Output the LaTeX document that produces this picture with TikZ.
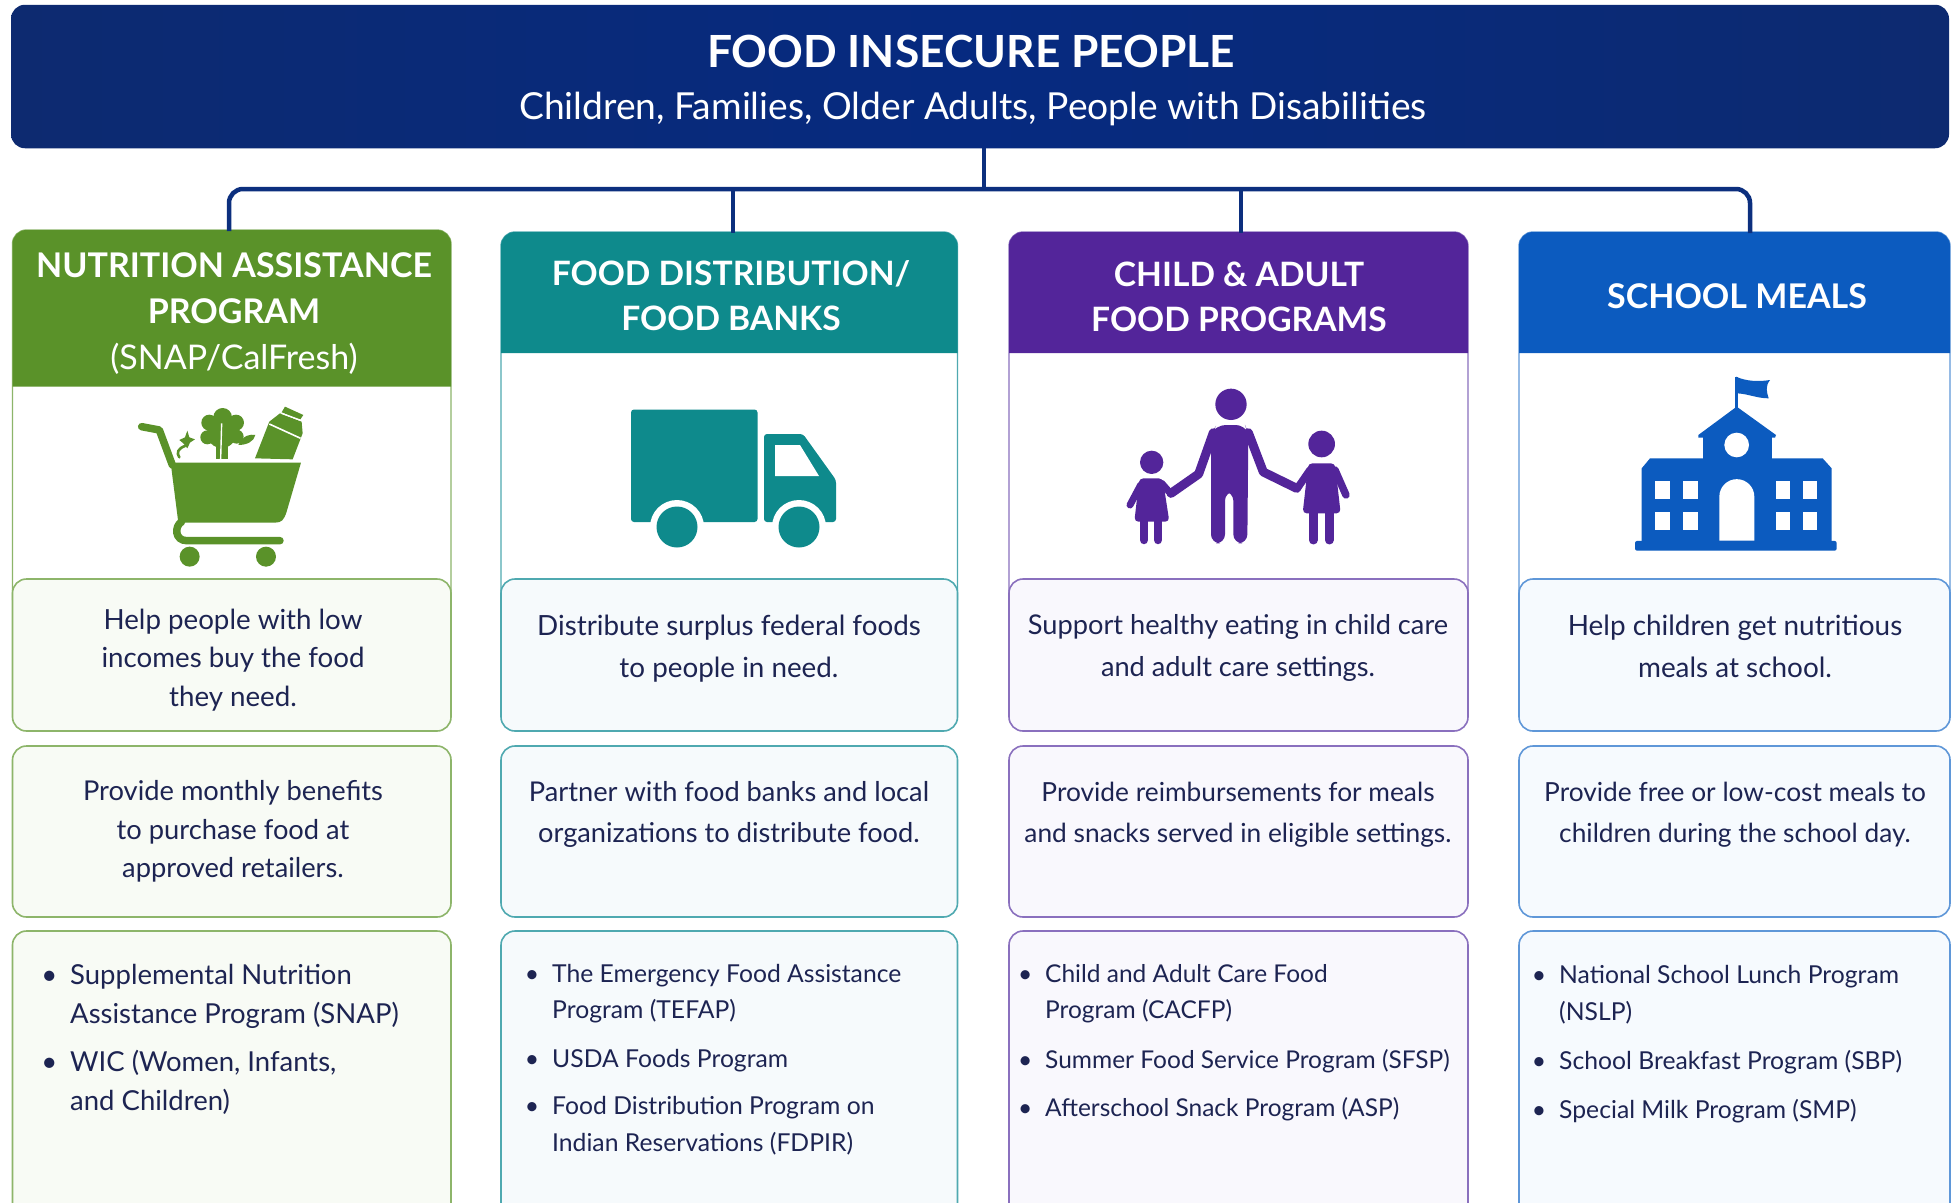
\documentclass[tikz,border=0pt]{standalone}
\usepackage{fontspec}
\setmainfont{Lato}
\definecolor{navy}{HTML}{062A80}
\definecolor{navyd}{HTML}{0D2A70}
\definecolor{conn}{HTML}{0C2F7E}
\definecolor{ink}{HTML}{1D2452}
\definecolor{grn}{HTML}{5A9229}\definecolor{grnb}{HTML}{8DB56A}\definecolor{grnf}{HTML}{F8FBF5}
\definecolor{tea}{HTML}{0E8A8C}\definecolor{teab}{HTML}{4FA9B0}\definecolor{teaf}{HTML}{F6FAFC}
\definecolor{pur}{HTML}{53259A}\definecolor{purb}{HTML}{8A70BE}\definecolor{purf}{HTML}{F9F8FD}
\definecolor{blu}{HTML}{0C5BBF}\definecolor{blub}{HTML}{5F97D8}\definecolor{bluf}{HTML}{F6FAFE}
\newcommand{\fs}[2]{\fontsize{#1}{#2}\selectfont}
\newcommand{\bul}{\llap{•\hspace{13pt}}}
\newcommand{\panelcol}[5]{%
 \draw[#5b,line width=1.4pt,fill=white] (#1,600) [rounded corners=14pt] -- (#1,#4) -- (#2,#4) [sharp corners] -- (#2,600);
 \fill[#5] (#1,#3) [rounded corners=14pt] -- (#1,#4) -- (#2,#4) [sharp corners] -- (#2,#3) -- cycle;
 \draw[#5b,line width=1.6pt,fill=#5f,rounded corners=14pt] (#1,579) rectangle (#2,731);
 \draw[#5b,line width=1.6pt,fill=#5f,rounded corners=14pt] (#1,746) rectangle (#2,917);
 \fill[#5f] (#1,1203) [rounded corners=14pt] -- (#1,931) -- (#2,931) [sharp corners] -- (#2,1203) -- cycle;
 \draw[#5b,line width=1.6pt] (#1,1203) [rounded corners=14pt] -- (#1,931) -- (#2,931) [sharp corners] -- (#2,1203);
}
\tikzset{
 hd/.style={text=white,font=\bfseries,align=center,inner sep=0pt},
 body/.style={text=ink,align=center,inner sep=0pt},
 items/.style={text=ink,align=left,inner sep=0pt,anchor=west},
 link/.style={draw=conn,line width=4.5pt},
}
\begin{document}
\begin{tikzpicture}[x=1pt,y=-1pt]
\useasboundingbox (0,0) rectangle (1951,1202);
\fill[white] (0,0) rectangle (1951,1202);
% columns
\panelcol{12.5}{451}{386.5}{230}{grn}
\panelcol{501}{957.5}{353}{232}{tea}
\panelcol{1009}{1468}{353}{232}{pur}
\panelcol{1519}{1950}{353}{232}{blu}
% banner
\node[rounded corners=14pt,left color=navyd,right color=navyd,middle color=navy,draw=none,minimum width=1938pt,minimum height=143.5pt,inner sep=0pt] (banner) at (980,76.5) {};
\node[text=white,font=\bfseries\fs{44.3}{50},inner sep=0pt] (bt) at (971,51.5) {FOOD INSECURE PEOPLE};
\node[text=white,font=\fs{37.2}{44},inner sep=0pt] (bs) at (973,108.5) {Children, Families, Older Adults, People with Disabilities};
% connectors
\coordinate (hub) at (984,189);
\coordinate (t1) at (229,231);
\coordinate (t2) at (733,233);
\coordinate (t3) at (1241,233);
\coordinate (t4) at (1750,233);
\draw[link] (banner.south -| hub) -- (hub);
\draw[link,rounded corners=14pt] (t1) -- (t1 |- hub) -- (t4 |- hub) -- (t4);
\draw[link] (t2 |- hub) -- (t2);
\draw[link] (t3 |- hub) -- (t3);
% headers
\node[hd,font=\bfseries\fs{34}{46}] (h1) at (234,313.5) {NUTRITION ASSISTANCE\\PROGRAM\\{\mdseries (SNAP/CalFresh)}};
\node[hd,font=\bfseries\fs{33.6}{45}] (h2) at (731,296) {FOOD DISTRIBUTION/\\FOOD BANKS};
\node[hd,font=\bfseries\fs{33.6}{45}] (h3) at (1239,296.5) {CHILD \& ADULT\\FOOD PROGRAMS};
\node[hd,font=\bfseries\fs{34}{45}] (h4) at (1737,296.5) {SCHOOL MEALS};
% descriptions
\node[body,font=\fs{27.7}{38.6}] (a1) at (233,660) {Help people with low\\incomes buy the food\\they need.};
\node[body,font=\fs{27.8}{42}] (a2) at (729,648.5) {Distribute surplus federal foods\\to people in need.};
\node[body,font=\fs{27.2}{42}] (a3) at (1238,648) {Support healthy eating in child care\\and adult care settings.};
\node[body,font=\fs{27.9}{42}] (a4) at (1735,646) {Help children get nutritious\\meals at school.};
\node[body,font=\fs{27.3}{38.6}] (b1) at (233,831.5) {Provide monthly benefits\\to purchase food at\\approved retailers.};
\node[body,font=\fs{27.25}{41}] (b2) at (729,814.5) {Partner with food banks and local\\organizations to distribute food.};
\node[body,font=\fs{26.3}{41}] (b3) at (1238,814.5) {Provide reimbursements for meals\\and snacks served in eligible settings.};
\node[body,font=\fs{26.3}{41}] (b4) at (1735,814.5) {Provide free or low-cost meals to\\children during the school day.};
% lists
\node[items,font=\fs{27.5}{38.6}] (c1a) at (70,996.5) {\bul Supplemental Nutrition\\Assistance Program (SNAP)};
\node[items,font=\fs{27.5}{38.6}] (c1b) at (70,1082.5) {\bul WIC (Women, Infants,\\and Children)};
\node[items,font=\fs{24.7}{36}] (c2a) at (552,994) {\bul The Emergency Food Assistance\\Program (TEFAP)};
\node[items,font=\fs{24.7}{36}] (c2b) at (552,1061) {\bul USDA Foods Program};
\node[items,font=\fs{24.7}{37}] (c2c) at (552,1126) {\bul Food Distribution Program on\\Indian Reservations (FDPIR)};
\node[items,font=\fs{24.5}{36}] (c3a) at (1045,994) {\bul Child and Adult Care Food\\Program (CACFP)};
\node[items,font=\fs{24.5}{36}] (c3b) at (1045,1061) {\bul Summer Food Service Program (SFSP)};
\node[items,font=\fs{24.5}{36}] (c3c) at (1045,1109) {\bul Afterschool Snack Program (ASP)};
\node[items,font=\fs{24.7}{37}] (c4a) at (1559,994.5) {\bul National School Lunch Program\\(NSLP)};
\node[items,font=\fs{24.7}{36}] (c4b) at (1559,1062) {\bul School Breakfast Program (SBP)};
\node[items,font=\fs{24.7}{36}] (c4c) at (1559,1111.5) {\bul Special Milk Program (SMP)};
% cart
\begin{scope}[shift={(100,380)},x=0.3333pt,y=-0.3333pt,grn]
 \fill (212,248) -- (603,248) -- (560,395) .. controls (552,420) and (545,428) .. (525,428) -- (235,428) -- cycle;
 \draw[line width=7.5pt,line cap=round,line join=round] (125,140) -- (178,150) -- (217,255);
 \draw[line width=7.5pt,line cap=round] (245,425) .. controls (222,440) and (225,482) .. (260,482) -- (540,482);
 \fill (269,530) circle (30);
 \fill (498,530) circle (30);
 \fill (465,235) -- (508,125) -- (540,100) -- (605,125) -- (608,160) -- (578,238) -- cycle;
 \draw[white,line width=1.6pt] (508,132) -- (602,175);
 \fill (555,80) -- (610,105) -- (600,120) -- (545,97) -- cycle;
 \draw[white,line width=1.4pt] (545,100) -- (605,122);
 \fill (368,112) circle (28);
 \fill (328,128) circle (24);
 \fill (408,128) circle (24);
 \fill (322,172) circle (21);
 \fill (410,170) circle (21);
 \fill (365,160) circle (44);
 \fill (348,190) rectangle (385,238);
 \draw[white,line width=1.4pt] (365,130) -- (362,238);
 \fill (262,152) -- (268,172) -- (285,178) -- (270,188) -- (262,205) -- (250,190) -- (238,180) -- (255,172) -- cycle;
 \draw[line width=2.6pt,line cap=round] (255,198) .. controls (235,205) and (228,218) .. (238,232);
 \fill (415,195) .. controls (430,165) and (450,162) .. (466,165) .. controls (462,185) and (440,195) .. (415,195) -- cycle;
\end{scope}
% truck
\begin{scope}[tea]
 \fill[rounded corners=3pt] (631,409.5) rectangle (757.5,522);
 \fill[rounded corners=3pt] (764,522) -- (764,434) -- (803,434) -- (836,480) -- (836,522) -- cycle;
 \fill[white] (775,445) -- (800,445) -- (819,476) -- (775,476) -- cycle;
 \fill[white] (677,527) circle (27);
 \fill[white] (799,527) circle (27);
 \fill (677,527) circle (20.5);
 \fill (799,527) circle (20.5);
\end{scope}
% family
\begin{scope}[shift={(1100,370)},x=0.3333pt,y=-0.3333pt,pur]
 \fill (393,103) circle (47);
 \fill[rounded corners=9pt] (333,520) -- (333,190) -- (350,165) -- (435,165) -- (445,190) -- (442,520) -- (400,520) -- (400,365) -- (375,365) -- (375,520) -- cycle;
 \draw[line width=9pt,line cap=round,line join=round] (340,188) -- (296,312) -- (213,370);
 \draw[line width=9pt,line cap=round,line join=round] (445,188) -- (490,306) -- (590,355);
 \fill (155,277) circle (35);
 \fill[rounded corners=4pt] (118,325) -- (188,325) -- (208,455) -- (103,455) -- cycle;
 \draw[line width=7pt,line cap=round] (122,345) -- (90,405);
 \draw[line width=7pt,line cap=round] (185,340) -- (213,372);
 \draw[line width=8.5pt,line cap=round] (132,450) -- (132,510);
 \draw[line width=8.5pt,line cap=round] (174,450) -- (174,510);
 \fill (665,222) circle (40);
 \fill[rounded corners=4pt] (625,280) -- (705,280) -- (722,430) -- (608,430) -- cycle;
 \draw[line width=7.5pt,line cap=round] (630,300) -- (592,355);
 \draw[line width=7.5pt,line cap=round] (705,300) -- (738,375);
 \draw[line width=9pt,line cap=round] (640,425) -- (640,510);
 \draw[line width=9pt,line cap=round] (688,425) -- (688,510);
\end{scope}
% school
\begin{scope}[shift={(1610,360)},x=0.3333pt,y=-0.3333pt,blu]
 \fill (376,50) rectangle (384,145);
 \fill (378,50) .. controls (410,65) and (450,65) .. (480,60) .. controls (465,80) and (470,95) .. (476,115) .. controls (440,115) and (410,100) .. (378,100) -- cycle;
 \fill (380,140) -- (498,225) -- (495,233) -- (265,233) -- (265,225) -- cycle;
 \fill (278,230) rectangle (485,300);
 \fill (95,325) -- (120,295) -- (638,295) -- (665,325) -- (665,548) -- (95,548) -- cycle;
 \fill[rounded corners=2pt] (75,543) rectangle (680,572);
 \fill[white] (380,255) circle (37);
 \fill[white] (328,542) -- (328,410) arc (180:360:52.5) -- (433,542) -- cycle;
 \fill[white] (135,362) rectangle (180,417);
 \fill[white] (218,362) rectangle (263,417);
 \fill[white] (135,455) rectangle (180,510);
 \fill[white] (218,455) rectangle (263,510);
 \fill[white] (498,362) rectangle (541,417);
 \fill[white] (578,362) rectangle (622,417);
 \fill[white] (498,455) rectangle (541,510);
 \fill[white] (578,455) rectangle (622,510);
\end{scope}
\end{tikzpicture}
\end{document}
